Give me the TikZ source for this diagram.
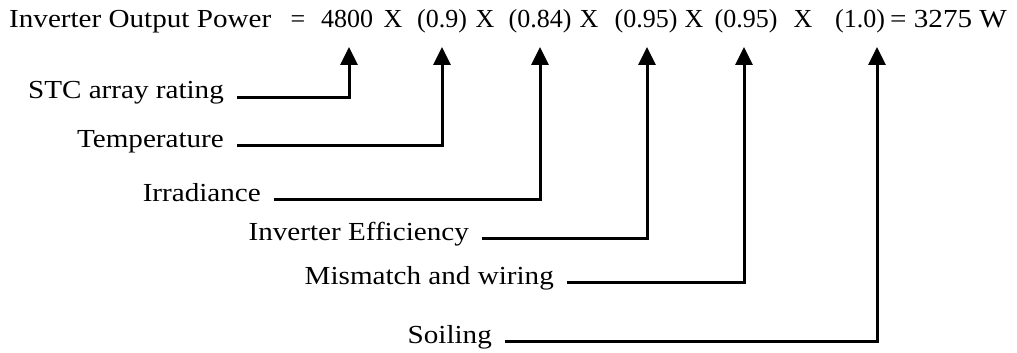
\documentclass[tikz,border=0pt]{standalone}
\usepackage{fontspec}
\setmainfont{Liberation Serif}
\usetikzlibrary{arrows.meta}
\newcommand{\wide}[1]{\scalebox{1.12}[1]{#1}}

\begin{document}
\begin{tikzpicture}[
  x=1pt, y=-1pt,
  font=\fontsize{26}{30}\selectfont,
  term/.style={anchor=base, inner sep=0pt},
  lbl/.style={anchor=base east, inner xsep=13pt, inner ysep=0pt},
  lead/.style={-{Triangle[length=18pt, width=17pt]}, line width=3pt}
]
\useasboundingbox (0,0) rectangle (1017,353);

% the equation
\node[term, anchor=base west] (lhs) at (9,28) {\wide{Inverter Output Power}};
\foreach \x/\t/\n in {298/=/eq, 347/4800/vstc, 393/X/m1, 442/(0.9)/vtemp,
    485/X/m2, 540/(0.84)/virr, 589/X/m3, 646/(0.95)/vinv, 694/X/m4,
    746/(0.95)/vmis, 803/X/m5, 860/(1.0)/vsoil}
  \node[term] (\n) at (\x,28) {\t};
\node[term, anchor=base west] (res) at (890,28) {\wide{= 3275 W}};

% where the arrows end
\coordinate (tstc) at (349,47);
\coordinate (ttemp) at (442,47);
\coordinate (tirr) at (540,47);
\coordinate (tinv) at (647,47);
\coordinate (tmis) at (744,47);
\coordinate (tsoil) at (877,47);

% factors
\node[lbl] (stc) at (237,99) {\wide{STC array rating}};
\node[lbl] (temp) at (237,147) {\wide{Temperature}};
\node[lbl] (irr) at (274,201) {\wide{Irradiance}};
\node[lbl] (inv) at (482,240) {\wide{Inverter Efficiency}};
\node[lbl] (mis) at (567,284) {\wide{Mismatch and wiring}};
\node[lbl] (soil) at (505,343) {\wide{Soiling}};

\draw[lead] ([yshift=2pt]stc.base east) -| (tstc);
\draw[lead] ([yshift=2pt]temp.base east) -| (ttemp);
\draw[lead] ([yshift=2pt]irr.base east) -| (tirr);
\draw[lead] ([yshift=2pt]inv.base east) -| (tinv);
\draw[lead] ([yshift=2pt]mis.base east) -| (tmis);
\draw[lead] ([yshift=2pt]soil.base east) -| (tsoil);
\end{tikzpicture}
\end{document}
